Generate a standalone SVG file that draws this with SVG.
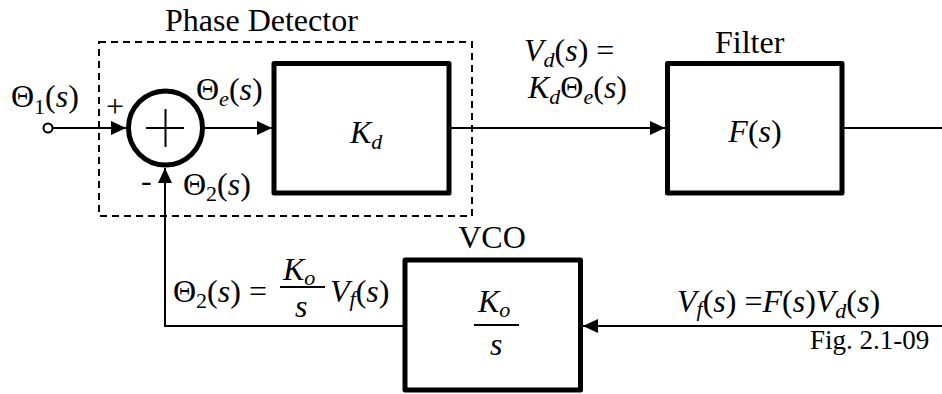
<svg xmlns="http://www.w3.org/2000/svg" width="942" height="394" viewBox="0 0 942 394">
<defs>
<style>
.blk{fill:#fff;stroke:#000;stroke-width:5;stroke-linejoin:round}
.wire{fill:none;stroke:#000;stroke-width:2}
.dash{fill:none;stroke:#000;stroke-width:2;stroke-dasharray:7 5}
</style>
<marker id="arr" markerUnits="userSpaceOnUse" markerWidth="16" markerHeight="16" refX="15" refY="7" orient="auto">
<path d="M0,0 L15,7 L0,14 z" fill="#000"/>
</marker>
</defs>
<rect width="942" height="394" fill="#fff"/>
<g font-family="Liberation Serif, Times New Roman, DejaVu Serif, serif" font-size="32" fill="#000">

<g id="phase-detector">
<rect class="dash" x="99" y="42" width="373" height="174"/>
<text x="165" y="31">Phase Detector</text>
</g>

<g id="connectors">
<line class="wire" x1="52" y1="128" x2="126" y2="128" marker-end="url(#arr)"/>
<line class="wire" x1="205" y1="128" x2="272" y2="128" marker-end="url(#arr)"/>
<line class="wire" x1="451" y1="128" x2="665" y2="128" marker-end="url(#arr)"/>
<line class="wire" x1="844" y1="128" x2="942" y2="128"/>
<line class="wire" x1="942" y1="326" x2="583" y2="326" marker-end="url(#arr)"/>
<polyline class="wire" points="403,326 165,326 165,168" marker-end="url(#arr)"/>
</g>

<g id="input">
<circle cx="48" cy="128" r="4.5" fill="#fff" stroke="#000" stroke-width="2"/>
<text x="11" y="107">Θ<tspan font-size="22" dy="7">1</tspan><tspan dy="-7">(</tspan><tspan font-style="italic">s</tspan>)</text>
</g>

<g id="sum">
<circle cx="165.5" cy="128" r="37" fill="#fff" stroke="#000" stroke-width="5"/>
<line class="wire" x1="146" y1="128" x2="184" y2="128"/>
<line class="wire" x1="165.5" y1="109" x2="165.5" y2="147"/>
<text x="106" y="117">+</text>
<text x="141" y="191">-</text>
<text x="196" y="100">Θ<tspan font-size="22" font-style="italic" dy="6">e</tspan><tspan dy="-6">(</tspan><tspan font-style="italic">s</tspan>)</text>
<text x="183" y="195">Θ<tspan font-size="22" dy="6">2</tspan><tspan dy="-6">(</tspan><tspan font-style="italic">s</tspan>)</text>
</g>

<g id="kd">
<rect class="blk" x="274" y="63.5" width="175" height="129.5"/>
<text x="350" y="143" font-style="italic">K<tspan font-size="22" dy="6">d</tspan></text>
</g>

<g id="vd-label">
<text x="524" y="61"><tspan font-style="italic">V</tspan><tspan font-size="22" font-style="italic" dy="6">d</tspan><tspan dy="-6">(</tspan><tspan font-style="italic">s</tspan>) =</text>
<text x="528" y="98"><tspan font-style="italic">K</tspan><tspan font-size="22" font-style="italic" dy="6">d</tspan><tspan dy="-6">Θ</tspan><tspan font-size="22" font-style="italic" dy="6">e</tspan><tspan dy="-6">(</tspan><tspan font-style="italic">s</tspan>)</text>
</g>

<g id="filter">
<rect class="blk" x="667.5" y="63.5" width="174.5" height="129.5"/>
<text x="715" y="53">Filter</text>
<text x="755" y="142" text-anchor="middle"><tspan font-style="italic">F</tspan>(<tspan font-style="italic">s</tspan>)</text>
</g>

<g id="vco">
<rect class="blk" x="405" y="260" width="175.5" height="130"/>
<text x="492" y="248" text-anchor="middle">VCO</text>
<text x="478" y="312" font-style="italic">K<tspan font-size="22" dy="5">o</tspan></text>
<line class="wire" x1="474" y1="325" x2="519" y2="325"/>
<text x="490" y="355" font-style="italic">s</text>
</g>

<g id="theta2-label">
<text x="173" y="302">Θ<tspan font-size="22" dy="6">2</tspan><tspan dy="-6">(</tspan><tspan font-style="italic">s</tspan>) =</text>
<text x="283" y="280" font-style="italic">K<tspan font-size="22" dy="5">o</tspan></text>
<line class="wire" x1="280" y1="287" x2="325" y2="287"/>
<text x="295" y="317" font-style="italic">s</text>
<text x="330" y="302"><tspan font-style="italic">V</tspan><tspan font-size="22" font-style="italic" dy="4">f</tspan><tspan dy="-4">(</tspan><tspan font-style="italic">s</tspan>)</text>
</g>

<g id="vf-label">
<text x="677" y="312"><tspan font-style="italic">V</tspan><tspan font-size="22" font-style="italic" dy="4">f</tspan><tspan dy="-4">(</tspan><tspan font-style="italic">s</tspan>) =<tspan font-style="italic">F</tspan>(<tspan font-style="italic">s</tspan>)<tspan font-style="italic">V</tspan><tspan font-size="22" font-style="italic" dy="6">d</tspan><tspan dy="-6">(</tspan><tspan font-style="italic">s</tspan>)</text>
</g>

<text x="810" y="349" font-size="27">Fig. 2.1-09</text>
</g>
</svg>
